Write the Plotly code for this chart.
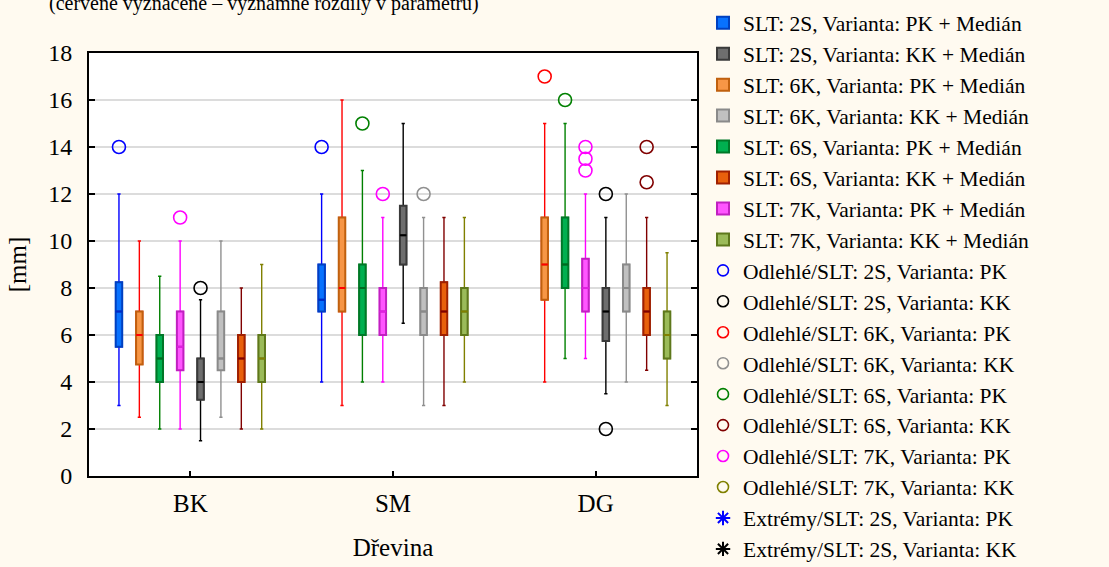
import plotly.graph_objects as go

categories = ["BK", "SM", "DG"]

# five-number summaries per category: [lower whisker, Q1, median, Q3, upper whisker]
stats_2S_PK = [[3, 5.5, 7, 8.25, 12], [4, 7, 7.5, 9, 12], None]
stats_6K_PK = [[2.5, 4.75, 6, 7, 10], [3, 7, 8, 11, 16], [4, 7.5, 9, 11, 15]]
stats_6S_PK = [[2, 4, 5, 6, 8.5], [4, 6, 8, 9, 13], [5, 8, 9, 11, 15]]
stats_7K_PK = [[2, 4.5, 5.5, 7, 10], [4, 6, 7, 8, 11], [5, 7, 8, 9.25, 12]]
stats_2S_KK = [[1.5, 3.25, 4, 5, 7.5], [6.5, 9, 10.25, 11.5, 15], [3.5, 5.75, 7, 8, 11]]
stats_6K_KK = [[2.5, 4.5, 5, 7, 10], [3, 6, 7, 8, 11], [4, 7, 8, 9, 12]]
stats_6S_KK = [[2, 4, 5, 6, 8], [3, 6, 7, 8.25, 11], [4.5, 6, 7, 8, 11]]
stats_7K_KK = [[2, 4, 5, 6, 9], [4, 6, 7, 8, 11], [3, 5, 6, 7, 9.5]]

# outlying values per category
outliers_2S_PK = [[14], [14], []]
outliers_6K_PK = [[], [], [17]]
outliers_6S_PK = [[], [15], [16]]
outliers_7K_PK = [[11], [12], [14, 13.5, 13]]
outliers_2S_KK = [[8], [], [12, 2]]
outliers_6K_KK = [[], [12], []]
outliers_6S_KK = [[], [], [14, 12.5]]
outliers_7K_KK = [[], [], []]

# (SLT, variant, stats, outliers, fill, outline, whisker, median, legend position)
series = [
    ("2S", "PK", stats_2S_PK, outliers_2S_PK, "#0872ff", "#0040c0", "#0000ff", "#0028c8", 1),
    ("6K", "PK", stats_6K_PK, outliers_6K_PK, "#f79646", "#c0600e", "#ff0000", "#ff0000", 3),
    ("6S", "PK", stats_6S_PK, outliers_6S_PK, "#00b050", "#007828", "#008000", "#006a20", 5),
    ("7K", "PK", stats_7K_PK, outliers_7K_PK, "#ff55ff", "#c020c0", "#ff00ff", "#e020e0", 7),
    ("2S", "KK", stats_2S_KK, outliers_2S_KK, "#6e6e6e", "#3a3a3a", "#000000", "#000000", 2),
    ("6K", "KK", stats_6K_KK, outliers_6K_KK, "#c0c0c0", "#8a8a8a", "#909090", "#8a8a8a", 4),
    ("6S", "KK", stats_6S_KK, outliers_6S_KK, "#e8600c", "#a02000", "#800000", "#800000", 6),
    ("7K", "KK", stats_7K_KK, outliers_7K_KK, "#9bbb59", "#5e781c", "#808000", "#808000", 8),
]

FONT = "Times New Roman, Liberation Serif, serif"
CLEAR = "rgba(0,0,0,0)"

fig = go.Figure()

for slt, var, stats, outs, fill, outline, whisk, med_col, rank in series:
    key = f"{slt}-{var}"
    cats = [c for c, s in zip(categories, stats) if s is not None]
    rows = [s for s in stats if s is not None]
    lo = [r[0] for r in rows]
    q1 = [r[1] for r in rows]
    med = [r[2] for r in rows]
    q3 = [r[3] for r in rows]
    hi = [r[4] for r in rows]

    # whiskers with end caps
    fig.add_trace(go.Box(
        x=cats, q1=q1, median=med, q3=q3, lowerfence=lo, upperfence=hi,
        offsetgroup=key, fillcolor=CLEAR, whiskerwidth=0.5,
        line=dict(color=whisk, width=1.4), showlegend=False, hoverinfo="skip"))
    # filled box body
    fig.add_trace(go.Box(
        x=cats, q1=q1, median=med, q3=q3, lowerfence=q1, upperfence=q3,
        offsetgroup=key, fillcolor=fill, whiskerwidth=0,
        line=dict(color=outline, width=2),
        name=f"SLT: {slt}, Varianta: {var} + Medián", legendrank=rank))
    # median line
    fig.add_trace(go.Box(
        x=cats, q1=med, median=med, q3=med, lowerfence=med, upperfence=med,
        offsetgroup=key, fillcolor=CLEAR, whiskerwidth=0,
        line=dict(color=med_col, width=2), showlegend=False, hoverinfo="skip"))

    # outlying points placed at the centre of the box slot
    ox, oy = [], []
    for c, vals in zip(categories, outs):
        ox += [c] * len(vals)
        oy += vals
    if oy:
        fig.add_trace(go.Box(
            x=ox, y=oy, offsetgroup=key, boxpoints="all", jitter=0, pointpos=0,
            fillcolor=CLEAR, line=dict(width=0, color=whisk), whiskerwidth=0,
            marker=dict(symbol="circle-open", size=13, color=whisk,
                        line=dict(width=1.6, color=whisk)),
            showlegend=False))

    fig.add_trace(go.Scatter(
        x=[None], y=[None], mode="markers",
        marker=dict(symbol="circle-open", size=11, color=whisk, line=dict(width=1.6, color=whisk)),
        name=f"Odlehlé/SLT: {slt}, Varianta: {var}", legendrank=8 + rank))
    fig.add_trace(go.Scatter(
        x=[None], y=[None], mode="markers",
        marker=dict(symbol="asterisk-open", size=12, color=whisk, line=dict(width=2, color=whisk)),
        name=f"Extrémy/SLT: {slt}, Varianta: {var}", legendrank=16 + rank))

fig.add_annotation(
    text="(červeně vyznačené – významné rozdíly v parametru)",
    xref="paper", yref="paper", x=-0.069, y=1.085, xanchor="left", yanchor="bottom",
    showarrow=False, font=dict(family=FONT, size=20, color="#000000"))

fig.update_layout(
    width=1109, height=567,
    margin=dict(l=89, r=412, t=53, b=91, autoexpand=False),
    paper_bgcolor="#fffaf0", plot_bgcolor="#ffffff",
    font=dict(family=FONT, size=24, color="#000000"),
    boxmode="group", boxgap=0.195, boxgroupgap=0.68,
    legend=dict(
        x=1.0099, xanchor="left", y=0.996, yref="container", yanchor="top",
        bgcolor=CLEAR, borderwidth=0, font=dict(family=FONT, size=21.5),
        maxheight=900, traceorder="normal"),
    xaxis=dict(
        categoryorder="array", categoryarray=categories, range=[-0.5, 2.5],
        showline=True, linecolor="#000000", linewidth=2, mirror=True,
        ticks="inside", ticklen=5, tickwidth=1.5, tickcolor="#000000",
        tickfont=dict(size=25), ticklabelstandoff=4, showgrid=False,
        title=dict(text="Dřevina", font=dict(size=25), standoff=22)),
    yaxis=dict(
        range=[0, 18], tickvals=list(range(0, 19, 2)),
        showline=True, linecolor="#000000", linewidth=2, mirror="ticks",
        ticks="inside", ticklen=6, tickwidth=1.5, tickcolor="#000000",
        tickfont=dict(size=24), ticklabelstandoff=10,
        showgrid=True, gridcolor="#dcdcdc", gridwidth=1.5, zeroline=False,
        title=dict(text="[mm]", font=dict(size=25), standoff=14)),
)

fig.write_html("out.html")
